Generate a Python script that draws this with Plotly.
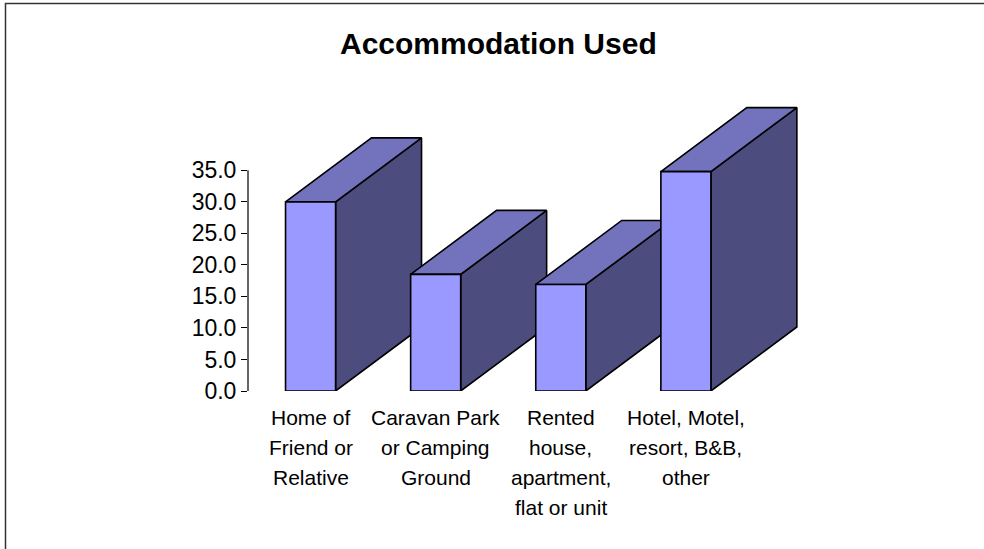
import plotly.graph_objects as go

# data
categories = [
    "Home of<br>Friend or<br>Relative",
    "Caravan Park<br>or Camping<br>Ground",
    "Rented<br>house,<br>apartment,<br>flat or unit",
    "Hotel, Motel,<br>resort, B&B,<br>other",
]
values = [30.0, 18.5, 16.9, 34.8]
y_ticks = [0, 5, 10, 15, 20, 25, 30, 35]

FONT = "Liberation Sans, Arial, sans-serif"
FRONT = "#9999FF"
TOP = "#7373BD"
SIDE = "#4C4C7E"

# geometry of the fake 3D boxes (category units / value units)
half_w = 0.2
depth_x = 0.687
depth_y = 10.15

W, H = 984, 549
L, R, T, B = 248, 173, 101, 158

fig = go.Figure()


def face(xs, ys, color):
    fig.add_trace(go.Scatter(
        x=xs + [xs[0]], y=ys + [ys[0]], mode="lines", fill="toself",
        fillcolor=color, line=dict(color="black", width=1.6),
        hoverinfo="skip", showlegend=False))


for i, v in enumerate(values):
    x0, x1 = i - half_w, i + half_w
    # side face
    face([x1, x1 + depth_x, x1 + depth_x, x1],
         [0, depth_y, v + depth_y, v], SIDE)
    # top face
    face([x0, x1, x1 + depth_x, x0 + depth_x],
         [v, v, v + depth_y, v + depth_y], TOP)
    # front face
    face([x0, x1, x1, x0], [0, 0, v, v], FRONT)

# category labels, one annotation per line to get the wide line spacing
for i, cat in enumerate(categories):
    for j, line in enumerate(cat.split("<br>")):
        fig.add_annotation(x=i, y=0, xref="x", yref="y", text=line,
                           showarrow=False, yanchor="middle", yshift=-26 - 30 * j,
                           font=dict(family=FONT, size=21, color="black"))

fig.add_annotation(text="<b>Accommodation Used</b>", xref="paper", yref="paper",
                   x=(498 - L) / (W - L - R), y=(H - B - 43) / (H - T - B),
                   showarrow=False, xanchor="center", yanchor="middle",
                   font=dict(family=FONT, size=30, color="black"))

# y axis line only spans the ticked range
fig.add_shape(type="line", xref="paper", yref="y", x0=0, x1=0, y0=0, y1=35,
              line=dict(color="black", width=1.2))

# outer chart border
fig.add_shape(type="rect", xref="paper", yref="paper",
              x0=(5.5 - L) / (W - L - R), x1=2,
              y0=-2, y1=(H - B - 3.5) / (H - T - B),
              line=dict(color="#333333", width=1.5))

fig.update_xaxes(range=[-0.5, 4.0], showgrid=False, zeroline=False,
                 showticklabels=False, showline=False, ticks="")
fig.update_yaxes(range=[0, 46], tickvals=y_ticks, tickformat=".1f",
                 ticks="outside", ticklen=6, tickcolor="black", tickwidth=1.2,
                 showgrid=False, zeroline=False, showline=False,
                 tickfont=dict(family=FONT, size=23, color="black"))

fig.update_layout(width=W, height=H, margin=dict(l=L, r=R, t=T, b=B),
                  paper_bgcolor="white", plot_bgcolor="white",
                  showlegend=False)

# drop the default page margin so the figure sits at the window origin
fig.write_html("out.html", config={"displayModeBar": False},
               post_script="document.body.style.margin = '0';")
